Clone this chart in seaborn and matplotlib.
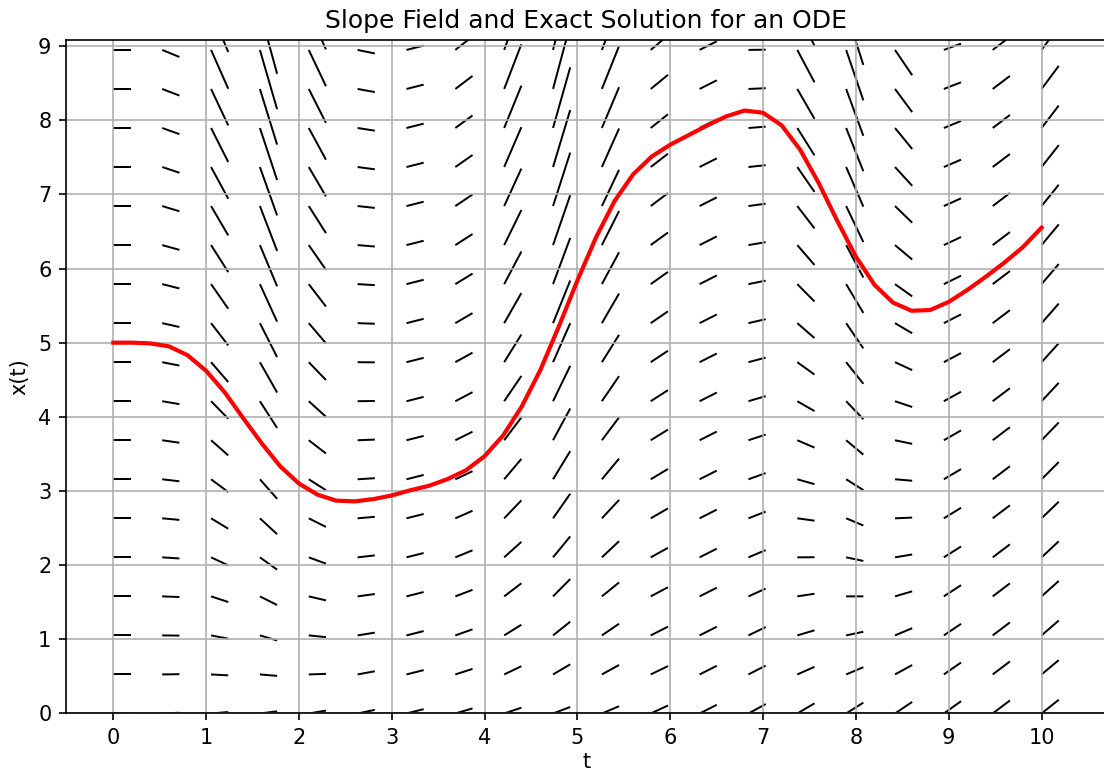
import numpy as np
import matplotlib
matplotlib.use('Agg')
import matplotlib.pyplot as plt
import seaborn as sns

# grid of the slope field (20 x 20 points, upper rows fall outside the y range)
t_grid = np.linspace(0, 10, 20)
x_grid = np.linspace(0, 10, 20)

# ODE: dx/dt = drift * t - damping * x * sin(t)^3
drift = 0.1
damping = 0.5

# exact solution x(t), x(0) = 5, sampled every 0.2
sol_t = [0.0, 0.2, 0.4, 0.6, 0.8, 1.0, 1.2, 1.4, 1.6, 1.8,
         2.0, 2.2, 2.4, 2.6, 2.8, 3.0, 3.2, 3.4, 3.6, 3.8,
         4.0, 4.2, 4.4, 4.6, 4.8, 5.0, 5.2, 5.4, 5.6, 5.8,
         6.0, 6.2, 6.4, 6.6, 6.8, 7.0, 7.2, 7.4, 7.6, 7.8,
         8.0, 8.2, 8.4, 8.6, 8.8, 9.0, 9.2, 9.4, 9.6, 9.8, 10.0]
sol_x = [5.00, 5.00, 4.99, 4.95, 4.83, 4.62, 4.33, 3.98, 3.64, 3.33,
         3.10, 2.95, 2.87, 2.86, 2.89, 2.94, 3.01, 3.07, 3.16, 3.28,
         3.47, 3.75, 4.14, 4.63, 5.22, 5.84, 6.42, 6.91, 7.27, 7.51,
         7.67, 7.80, 7.93, 8.05, 8.13, 8.10, 7.93, 7.60, 7.15, 6.64,
         6.16, 5.78, 5.54, 5.43, 5.44, 5.55, 5.71, 5.89, 6.08, 6.29, 6.55]

T, X = np.meshgrid(t_grid, x_grid)
slopes = drift * T - damping * X * np.sin(T) ** 3

fig = plt.figure(figsize=(7.36, 5.16), dpi=150)
ax = fig.add_axes([0.0598, 0.0782, 0.9425, 0.870])

# headless segments starting at each grid point
ax.quiver(T, X, np.ones_like(slopes), slopes,
          angles='xy', scale_units='xy', scale=5.4, pivot='tail',
          headwidth=0, headlength=0, headaxislength=0,
          width=0.0019, color='black')

sns.lineplot(x=sol_t, y=sol_x, color='red', linewidth=2, ax=ax)

ax.set_xlim(-0.51, 10.70)
ax.set_ylim(0, 9.08)
ax.set_xticks(range(0, 11))
ax.set_yticks(range(0, 10))
ax.grid(True)
ax.set_xlabel('t', labelpad=2)
ax.set_ylabel('x(t)')
ax.set_title('Slope Field and Exact Solution for an ODE')

fig.savefig('out.png', dpi=150)
